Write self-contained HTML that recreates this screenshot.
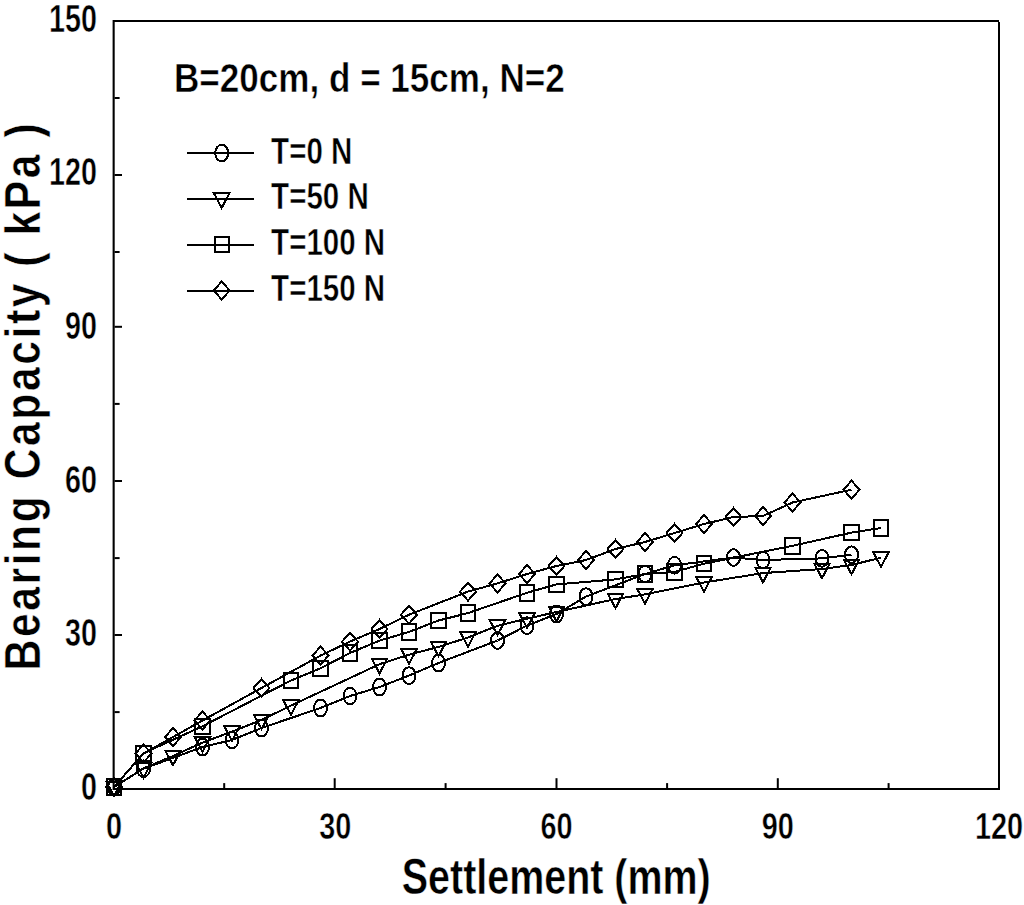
<!DOCTYPE html>
<html><head><meta charset="utf-8"><style>
html,body{margin:0;padding:0;background:#fff;}
body{width:1024px;height:905px;overflow:hidden;}
svg{display:block;}
text{font-family:"Liberation Sans",sans-serif;font-weight:bold;fill:#000;stroke:#fff;stroke-width:0.5px;paint-order:fill;}
</style></head><body>
<svg width="1024" height="905" viewBox="0 0 1024 905">
<rect width="1024" height="905" fill="#fff"/>

<g fill="#000">
<rect x="113" y="20" width="886" height="2"/>
<rect x="112.6" y="20" width="2.1" height="770"/>
<rect x="113" y="788" width="887" height="2"/>
<rect x="998" y="22" width="2" height="768"/>
<rect x="114.5" y="97.00" width="5.1" height="2"/>
<rect x="114.5" y="174.00" width="7.5" height="2"/>
<rect x="114.5" y="251.00" width="5.1" height="2"/>
<rect x="114.5" y="325.80" width="7.5" height="2"/>
<rect x="114.5" y="402.90" width="5.1" height="2"/>
<rect x="114.5" y="480.00" width="7.5" height="2"/>
<rect x="114.5" y="557.10" width="5.1" height="2"/>
<rect x="114.5" y="634.00" width="7.5" height="2"/>
<rect x="114.5" y="711.10" width="5.1" height="2"/>
<rect x="223.20" y="783.1" width="2" height="5.4"/>
<rect x="333.70" y="778.2" width="2" height="10.3"/>
<rect x="444.60" y="783.1" width="2" height="5.4"/>
<rect x="555.50" y="778.2" width="2" height="10.3"/>
<rect x="666.10" y="783.1" width="2" height="5.4"/>
<rect x="776.80" y="778.2" width="2" height="10.3"/>
<rect x="887.60" y="783.1" width="2" height="5.4"/>
</g>
<g fill="none" stroke="#000" stroke-width="2" stroke-linejoin="miter" shape-rendering="crispEdges">
<polyline points="114.0,787.0 143.5,768.7 202.5,747.0 232.0,740.0 261.5,728.0 320.5,708.0 350.0,696.0 379.5,687.0 409.0,675.6 438.5,663.0 497.5,640.5 527.0,625.6 556.5,614.0 586.0,596.6 645.0,574.0 674.5,565.3 733.5,557.5 763.0,560.0 822.0,558.4 851.5,554.7"/>
<polyline points="114.0,787.0 143.5,768.4 173.0,756.0 202.5,742.6 232.0,731.6 261.5,719.9 291.0,705.6 379.5,664.2 409.0,654.7 438.5,646.9 468.0,637.5 497.5,625.8 527.0,618.7 556.5,612.0 615.5,599.0 645.0,594.4 704.0,582.5 763.0,573.1 822.0,569.0 851.5,565.0 881.0,557.7"/>
<polyline points="114.0,787.0 143.5,753.3 202.5,726.2 291.0,680.5 320.5,668.3 350.0,653.0 379.5,640.6 409.0,631.9 438.5,620.5 468.0,613.1 527.0,592.8 556.5,584.4 615.5,579.4 645.0,574.0 674.5,571.9 704.0,563.7 792.5,545.8 851.5,532.6 881.0,528.0"/>
<polyline points="114.0,787.0 143.5,753.5 173.0,737.0 202.5,720.5 261.5,688.0 320.5,655.6 350.0,641.6 379.5,629.0 409.0,614.7 468.0,591.6 497.5,583.4 527.0,574.0 556.5,566.0 586.0,560.0 615.5,549.0 645.0,542.0 674.5,533.0 704.0,524.0 733.5,517.0 763.0,516.0 792.5,502.5 851.5,489.7"/>
</g>
<g fill="none" stroke="#000" stroke-width="2" shape-rendering="crispEdges">
<ellipse cx="114.0" cy="787.0" rx="6.5" ry="8.3"/>
<ellipse cx="143.5" cy="768.7" rx="6.5" ry="8.3"/>
<ellipse cx="202.5" cy="747.0" rx="6.5" ry="8.3"/>
<ellipse cx="232.0" cy="740.0" rx="6.5" ry="8.3"/>
<ellipse cx="261.5" cy="728.0" rx="6.5" ry="8.3"/>
<ellipse cx="320.5" cy="708.0" rx="6.5" ry="8.3"/>
<ellipse cx="350.0" cy="696.0" rx="6.5" ry="8.3"/>
<ellipse cx="379.5" cy="687.0" rx="6.5" ry="8.3"/>
<ellipse cx="409.0" cy="675.6" rx="6.5" ry="8.3"/>
<ellipse cx="438.5" cy="663.0" rx="6.5" ry="8.3"/>
<ellipse cx="497.5" cy="640.5" rx="6.5" ry="8.3"/>
<ellipse cx="527.0" cy="625.6" rx="6.5" ry="8.3"/>
<ellipse cx="556.5" cy="614.0" rx="6.5" ry="8.3"/>
<ellipse cx="586.0" cy="596.6" rx="6.5" ry="8.3"/>
<ellipse cx="645.0" cy="574.0" rx="6.5" ry="8.3"/>
<ellipse cx="674.5" cy="565.3" rx="6.5" ry="8.3"/>
<ellipse cx="733.5" cy="557.5" rx="6.5" ry="8.3"/>
<ellipse cx="763.0" cy="560.0" rx="6.5" ry="8.3"/>
<ellipse cx="822.0" cy="558.4" rx="6.5" ry="8.3"/>
<ellipse cx="851.5" cy="554.7" rx="6.5" ry="8.3"/>
<polygon points="106.3,781.6 121.7,781.6 114.0,796.2"/>
<polygon points="135.8,763.0 151.2,763.0 143.5,777.6"/>
<polygon points="165.3,750.6 180.7,750.6 173.0,765.2"/>
<polygon points="194.8,737.2 210.2,737.2 202.5,751.8"/>
<polygon points="224.3,726.2 239.7,726.2 232.0,740.8"/>
<polygon points="253.8,714.5 269.2,714.5 261.5,729.1"/>
<polygon points="283.3,700.2 298.7,700.2 291.0,714.8"/>
<polygon points="371.8,658.8 387.2,658.8 379.5,673.4"/>
<polygon points="401.3,649.3 416.7,649.3 409.0,663.9"/>
<polygon points="430.8,641.5 446.2,641.5 438.5,656.1"/>
<polygon points="460.3,632.1 475.7,632.1 468.0,646.7"/>
<polygon points="489.8,620.4 505.2,620.4 497.5,635.0"/>
<polygon points="519.3,613.3 534.7,613.3 527.0,627.9"/>
<polygon points="548.8,606.6 564.2,606.6 556.5,621.2"/>
<polygon points="607.8,593.6 623.2,593.6 615.5,608.2"/>
<polygon points="637.3,589.0 652.7,589.0 645.0,603.6"/>
<polygon points="696.3,577.1 711.7,577.1 704.0,591.7"/>
<polygon points="755.3,567.7 770.7,567.7 763.0,582.3"/>
<polygon points="814.3,563.6 829.7,563.6 822.0,578.2"/>
<polygon points="843.8,559.6 859.2,559.6 851.5,574.2"/>
<polygon points="873.3,552.3 888.7,552.3 881.0,566.9"/>
<rect x="106.8" y="779.3" width="14.4" height="15.4"/>
<rect x="136.3" y="745.6" width="14.4" height="15.4"/>
<rect x="195.3" y="718.5" width="14.4" height="15.4"/>
<rect x="283.8" y="672.8" width="14.4" height="15.4"/>
<rect x="313.3" y="660.6" width="14.4" height="15.4"/>
<rect x="342.8" y="645.3" width="14.4" height="15.4"/>
<rect x="372.3" y="632.9" width="14.4" height="15.4"/>
<rect x="401.8" y="624.2" width="14.4" height="15.4"/>
<rect x="431.3" y="612.8" width="14.4" height="15.4"/>
<rect x="460.8" y="605.4" width="14.4" height="15.4"/>
<rect x="519.8" y="585.1" width="14.4" height="15.4"/>
<rect x="549.3" y="576.7" width="14.4" height="15.4"/>
<rect x="608.3" y="571.7" width="14.4" height="15.4"/>
<rect x="637.8" y="566.3" width="14.4" height="15.4"/>
<rect x="667.3" y="564.2" width="14.4" height="15.4"/>
<rect x="696.8" y="556.0" width="14.4" height="15.4"/>
<rect x="785.3" y="538.1" width="14.4" height="15.4"/>
<rect x="844.3" y="524.9" width="14.4" height="15.4"/>
<rect x="873.8" y="520.3" width="14.4" height="15.4"/>
<polygon points="114.0,778.0 122.0,787.0 114.0,796.0 106.0,787.0"/>
<polygon points="143.5,744.5 151.5,753.5 143.5,762.5 135.5,753.5"/>
<polygon points="173.0,728.0 181.0,737.0 173.0,746.0 165.0,737.0"/>
<polygon points="202.5,711.5 210.5,720.5 202.5,729.5 194.5,720.5"/>
<polygon points="261.5,679.0 269.5,688.0 261.5,697.0 253.5,688.0"/>
<polygon points="320.5,646.6 328.5,655.6 320.5,664.6 312.5,655.6"/>
<polygon points="350.0,632.6 358.0,641.6 350.0,650.6 342.0,641.6"/>
<polygon points="379.5,620.0 387.5,629.0 379.5,638.0 371.5,629.0"/>
<polygon points="409.0,605.7 417.0,614.7 409.0,623.7 401.0,614.7"/>
<polygon points="468.0,582.6 476.0,591.6 468.0,600.6 460.0,591.6"/>
<polygon points="497.5,574.4 505.5,583.4 497.5,592.4 489.5,583.4"/>
<polygon points="527.0,565.0 535.0,574.0 527.0,583.0 519.0,574.0"/>
<polygon points="556.5,557.0 564.5,566.0 556.5,575.0 548.5,566.0"/>
<polygon points="586.0,551.0 594.0,560.0 586.0,569.0 578.0,560.0"/>
<polygon points="615.5,540.0 623.5,549.0 615.5,558.0 607.5,549.0"/>
<polygon points="645.0,533.0 653.0,542.0 645.0,551.0 637.0,542.0"/>
<polygon points="674.5,524.0 682.5,533.0 674.5,542.0 666.5,533.0"/>
<polygon points="704.0,515.0 712.0,524.0 704.0,533.0 696.0,524.0"/>
<polygon points="733.5,508.0 741.5,517.0 733.5,526.0 725.5,517.0"/>
<polygon points="763.0,507.0 771.0,516.0 763.0,525.0 755.0,516.0"/>
<polygon points="792.5,493.5 800.5,502.5 792.5,511.5 784.5,502.5"/>
<polygon points="851.5,480.7 859.5,489.7 851.5,498.7 843.5,489.7"/>
</g>
<g fill="none" stroke="#000" stroke-width="2" shape-rendering="crispEdges">
<line x1="187" y1="153.1" x2="254" y2="153.1"/>
<line x1="187" y1="198.7" x2="254" y2="198.7"/>
<line x1="187" y1="244.7" x2="254" y2="244.7"/>
<line x1="187" y1="290.5" x2="254" y2="290.5"/>
</g><g fill="none" stroke="#000" stroke-width="2" shape-rendering="crispEdges">
<ellipse cx="221.7" cy="153.1" rx="6.5" ry="8.3"/>
<polygon points="214.0,193.3 229.4,193.3 221.7,207.9"/>
<rect x="214.5" y="237.0" width="14.4" height="15.4"/>
<polygon points="221.7,281.5 229.7,290.5 221.7,299.5 213.7,290.5"/>
</g>
<text transform="translate(97.00,799.70) scale(0.752,1)" font-size="38.2" text-anchor="end">0</text>
<text transform="translate(97.00,646.10) scale(0.752,1)" font-size="38.2" text-anchor="end">30</text>
<text transform="translate(97.00,492.50) scale(0.752,1)" font-size="38.2" text-anchor="end">60</text>
<text transform="translate(97.00,338.90) scale(0.752,1)" font-size="38.2" text-anchor="end">90</text>
<text transform="translate(97.00,185.30) scale(0.752,1)" font-size="38.2" text-anchor="end">120</text>
<text transform="translate(97.00,31.70) scale(0.752,1)" font-size="38.2" text-anchor="end">150</text>
<text transform="translate(114.00,838.50) scale(0.78,1)" font-size="37.0" text-anchor="middle">0</text>
<text transform="translate(335.25,838.50) scale(0.78,1)" font-size="37.0" text-anchor="middle">30</text>
<text transform="translate(556.50,838.50) scale(0.78,1)" font-size="37.0" text-anchor="middle">60</text>
<text transform="translate(777.75,838.50) scale(0.78,1)" font-size="37.0" text-anchor="middle">90</text>
<text transform="translate(999.00,838.50) scale(0.78,1)" font-size="37.0" text-anchor="middle">120</text>
<text transform="translate(271.10,163.50) scale(0.807,1)" font-size="36.6" text-anchor="start">T=0 N</text>
<text transform="translate(271.10,209.30) scale(0.807,1)" font-size="36.6" text-anchor="start">T=50 N</text>
<text transform="translate(271.10,255.10) scale(0.807,1)" font-size="36.6" text-anchor="start">T=100 N</text>
<text transform="translate(271.10,300.90) scale(0.807,1)" font-size="36.6" text-anchor="start">T=150 N</text>
<text transform="translate(174.00,91.50) scale(0.866,1)" font-size="40.5" text-anchor="start">B=20cm, d = 15cm, N=2</text>
<text transform="translate(401.80,893.60) scale(0.792,1)" font-size="49.8" text-anchor="start">Settlement (mm)</text>
<text transform="translate(39.50,670.34) rotate(-90) scale(0.851,1)" font-size="50" text-anchor="start" letter-spacing="3.07">Bearing Capacity ( kPa )</text>
</svg></body></html>
